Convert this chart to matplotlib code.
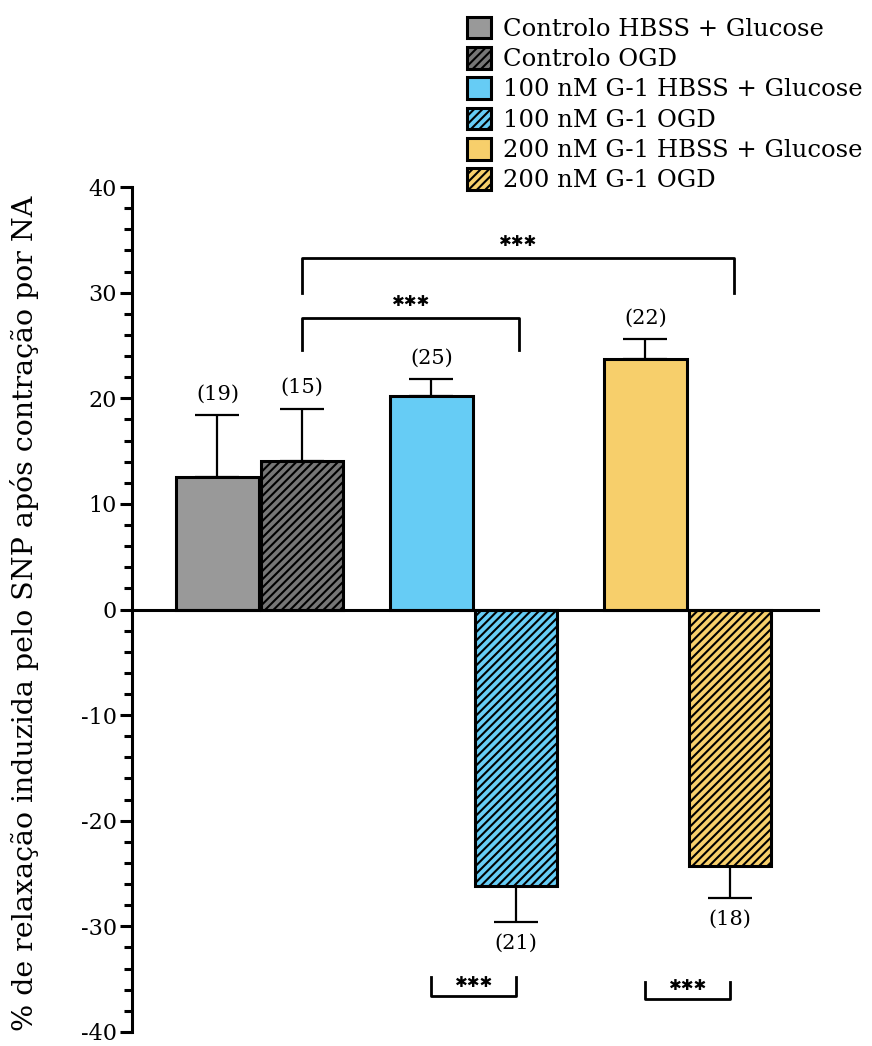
import numpy as np
import matplotlib.pyplot as plt
from matplotlib.ticker import MultipleLocator

plt.rcParams['font.family'] = ['DejaVu Serif']
plt.rcParams['hatch.linewidth'] = 1.5
plt.rcParams['axes.unicode_minus'] = False

labels = ['Controlo HBSS + Glucose', 'Controlo OGD',
          '100 nM G-1 HBSS + Glucose', '100 nM G-1 OGD',
          '200 nM G-1 HBSS + Glucose', '200 nM G-1 OGD']
means = [12.5, 14.1, 20.2, -26.2, 23.7, -24.3]
errors = [5.9, 4.9, 1.6, 3.4, 1.9, 3.0]
n_obs = [19, 15, 25, 21, 22, 18]
colors = ['#999999', '#767676', '#66CCF5', '#66CCF5', '#F7CF6B', '#F7CF6B']
hatches = ['', '////', '', '////', '', '////']

# bar centres (pairs of bars)
xpos = np.array([0, 1, 2.53, 3.53, 5.06, 6.06])

fig = plt.figure(figsize=(8.72, 10.46), dpi=100)
ax = fig.add_axes([0.1514, 0.0134, 0.7866, 0.8078])

for i in range(len(means)):
    ax.bar(xpos[i], means[i], width=0.98, color=colors[i], hatch=hatches[i],
           edgecolor='black', linewidth=2.2, label=labels[i], zorder=2)
    yerr = [[0], [errors[i]]] if means[i] > 0 else [[errors[i]], [0]]
    ax.errorbar(xpos[i], means[i], yerr=yerr, fmt='none', ecolor='black',
                elinewidth=1.6, capsize=16, capthick=1.6, zorder=1)
    tip = means[i] + errors[i] if means[i] > 0 else means[i] - errors[i]
    off = 2.0 if means[i] > 0 else -2.0
    ax.text(xpos[i], tip + off, '(%d)' % n_obs[i], ha='center', va='center', fontsize=15)

def bracket(x1, x2, y, h, ty):
    ax.plot([x1, x1, x2, x2], [y - h, y, y, y - h], color='black', lw=2, clip_on=False)
    ax.text((x1 + x2) / 2, ty, '\u2731\u2731\u2731', ha='center', va='center',
            fontsize=11, family='DejaVu Sans')

bracket(xpos[1], xpos[5] + 0.05, 33.3, 3.3, 34.8)
bracket(xpos[1], xpos[3] + 0.04, 27.6, 3.0, 29.2)
bracket(xpos[2], xpos[3], -36.6, -1.8, -35.3)
bracket(xpos[4], xpos[5], -36.9, -1.6, -35.6)

ax.set_xlim(-1.01, 7.1)
ax.set_ylim(-40, 40)
ax.spines['top'].set_visible(False)
ax.spines['right'].set_visible(False)
ax.spines['bottom'].set_position(('data', 0))
ax.spines['bottom'].set_linewidth(2.2)
ax.spines['left'].set_linewidth(2.2)
ax.set_xticks([])
ax.yaxis.set_major_locator(MultipleLocator(10))
ax.yaxis.set_minor_locator(MultipleLocator(2))
ax.tick_params(axis='y', which='major', length=9, width=2.2, labelsize=16, pad=2)
ax.tick_params(axis='y', which='minor', length=6, width=2.2)
ax.set_ylabel('% de relaxação induzida pelo SNP após contração por NA', fontsize=20.5)
ax.yaxis.set_label_coords(-0.135, 0.495)

fig.legend(loc='upper left', bbox_to_anchor=(0.535, 0.984), frameon=False,
           fontsize=17.5, handlelength=1.0, handleheight=1.0, handletextpad=0.5,
           labelspacing=0.25, borderpad=0, borderaxespad=0)

fig.savefig('out.png', dpi=100)
